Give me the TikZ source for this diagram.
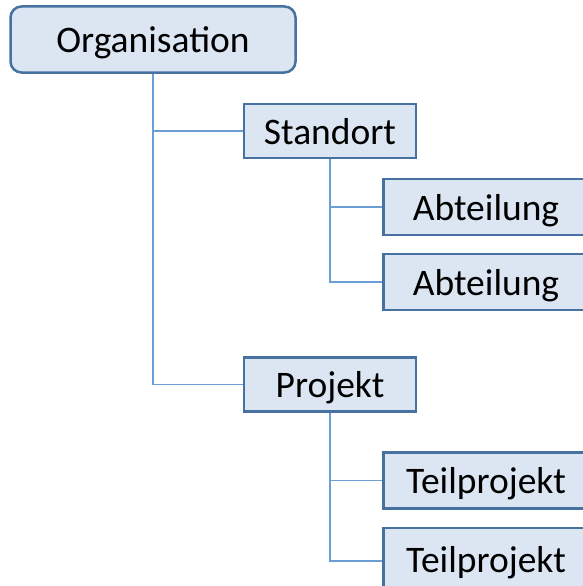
\documentclass[tikz,border=0pt]{standalone}
\usepackage{fontspec}
\setmainfont{Carlito}
\usepackage{tikz}
\usepackage{xcolor}
\usetikzlibrary{positioning}
\definecolor{boxfill}{RGB}{220,230,242}
\definecolor{boxline}{RGB}{70,113,160}
\definecolor{linkline}{RGB}{108,158,214}
\tikzset{orgbox/.style={inner sep=0pt, rectangle, draw=boxline, fill=boxfill, line width=2.5pt,
        font=\fontsize{37.5}{40}\selectfont, text=black, text height=33pt, text depth=7pt},
    link/.style={draw=linkline, line width=1.3pt}}

\begin{document}
\begin{tikzpicture}[x=1pt, y=-1pt]
                        \clip (0, 0) rectangle (583, 586);
                        \fill[white] (0, 0) rectangle (583, 586);

                        \node[orgbox, rounded corners=11pt, minimum width=285pt, minimum height=66pt] (org) at (153, 39.5) {Organisation};
                        \node[orgbox, minimum width=172pt, minimum height=54pt] (std) at (330, 131) {Standort};
                        \node[orgbox, minimum width=172pt, minimum height=54pt] (prj) at (330, 384.5) {Projekt};
                        \node[orgbox, minimum width=205pt, minimum height=56pt] (abt1) at (486, 207) {Abteilung};
                        \node[orgbox, minimum width=205pt, minimum height=56pt] (abt2) at (486, 282) {Abteilung};
                        \node[orgbox, minimum width=205pt, minimum height=56pt] (tp1) at (486, 480.5) {Teilprojekt};
                        \node[orgbox, minimum width=205pt, minimum height=62pt] (tp2) at (486, 559) {Teilprojekt};

                        \draw[link]
                        (org.south) |- (std.west)
                        (org.south) |- (prj.west)
                        (std.south) |- (abt1.west)
                        (std.south) |- (abt2.west)
                        (prj.south) |- (tp1.west)
                        (prj.south) |- ([yshift=-2pt]tp2.west);
                    \end{tikzpicture}
\end{document}
